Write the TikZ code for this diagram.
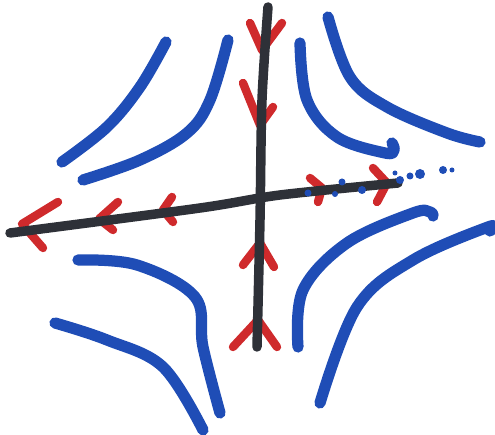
\documentclass[tikz,border=0pt]{standalone}
\usepackage{xcolor}
\usepackage{tikz}
\usetikzlibrary{calc}
\definecolor{ink}{HTML}{2E3138}
\definecolor{orb}{HTML}{1F4DB6}
\definecolor{flow}{HTML}{CF2A2C}
\tikzset{
  manifold/.style={line width=5.4pt, ink, line cap=round, line join=round},
  orbit/.style={line width=6.4pt, orb, line cap=round, line join=round},
  flowtip/.style={line width=4.8pt, flow, line cap=round, line join=round},
  blot/.style={fill=orb, draw=none},
}
\newcommand{\flowtip}[3]{\draw[flowtip] (#2) -- (#1) -- (#3);}
\newcommand{\trajectory}[1]{\draw[orbit] plot[smooth, tension=0.6] coordinates {#1};}

\begin{document}
\begin{tikzpicture}[x=0.02cm,y=-0.02cm]
  \useasboundingbox (0,0) rectangle (495,435);
  % ends of the two straight-line solutions
  \coordinate (top) at (268,7);
  \coordinate (bottom) at (257,347);
  \coordinate (left) at (10,233);
  \coordinate (right) at (398,183);
  % hyperbolic orbits
  \trajectory{(166,42) (140,87) (107,127) (62,162)}
  \trajectory{(228,40) (210,100) (187,133) (140,160) (83,180)}
  \trajectory{(300,43) (307,100) (337,137) (385,153) (394,150) (392,143)}
  \trajectory{(328,17) (350,77) (387,107) (447,133) (480,142)}
  \trajectory{(78,260) (137,265) (195,297) (203,347) (220,413)}
  \trajectory{(55,323) (107,340) (163,367) (203,430)}
  \trajectory{(298,347) (303,290) (347,243) (413,213) (430,212) (433,216)}
  \trajectory{(320,403) (357,307) (413,260) (488,227) (490,231)}
  % arrows on the stable line
  \flowtip{262,50}{250,23}{282,23}
  \flowtip{260,125}{243,83}{273,107}
  \flowtip{260,243}{243,265}{274,267}
  \flowtip{258,320}{233,347}{277,347}
  % arrows on the unstable line
  \flowtip{22,224}{58,202}{43,248}
  \flowtip{99,219}{118,202}{113,230}
  \flowtip{163,210}{172,197}{173,222}
  \flowtip{322,188}{310,178}{318,202}
  \flowtip{387,183}{373,168}{377,202}
  % the two lines
  \draw[manifold] plot[smooth, tension=0.5] coordinates {(top) (262,100) (260,220) (bottom)};
  \draw[manifold] plot[smooth, tension=0.5] coordinates {(left) (200,208) (280,195) (right)};
  % ink blots past the right end
  \foreach \x/\y/\r in {342/182/3.5, 362/190/4, 335/194/3, 308/193/3.5, 400/180/4,
                        410/176/3.5, 420/174/5, 443/170/4, 452/170/2.5, 395/173/2.5} {
    \fill[blot] (\x,\y) circle[radius=\r];
  }
\end{tikzpicture}
\end{document}
